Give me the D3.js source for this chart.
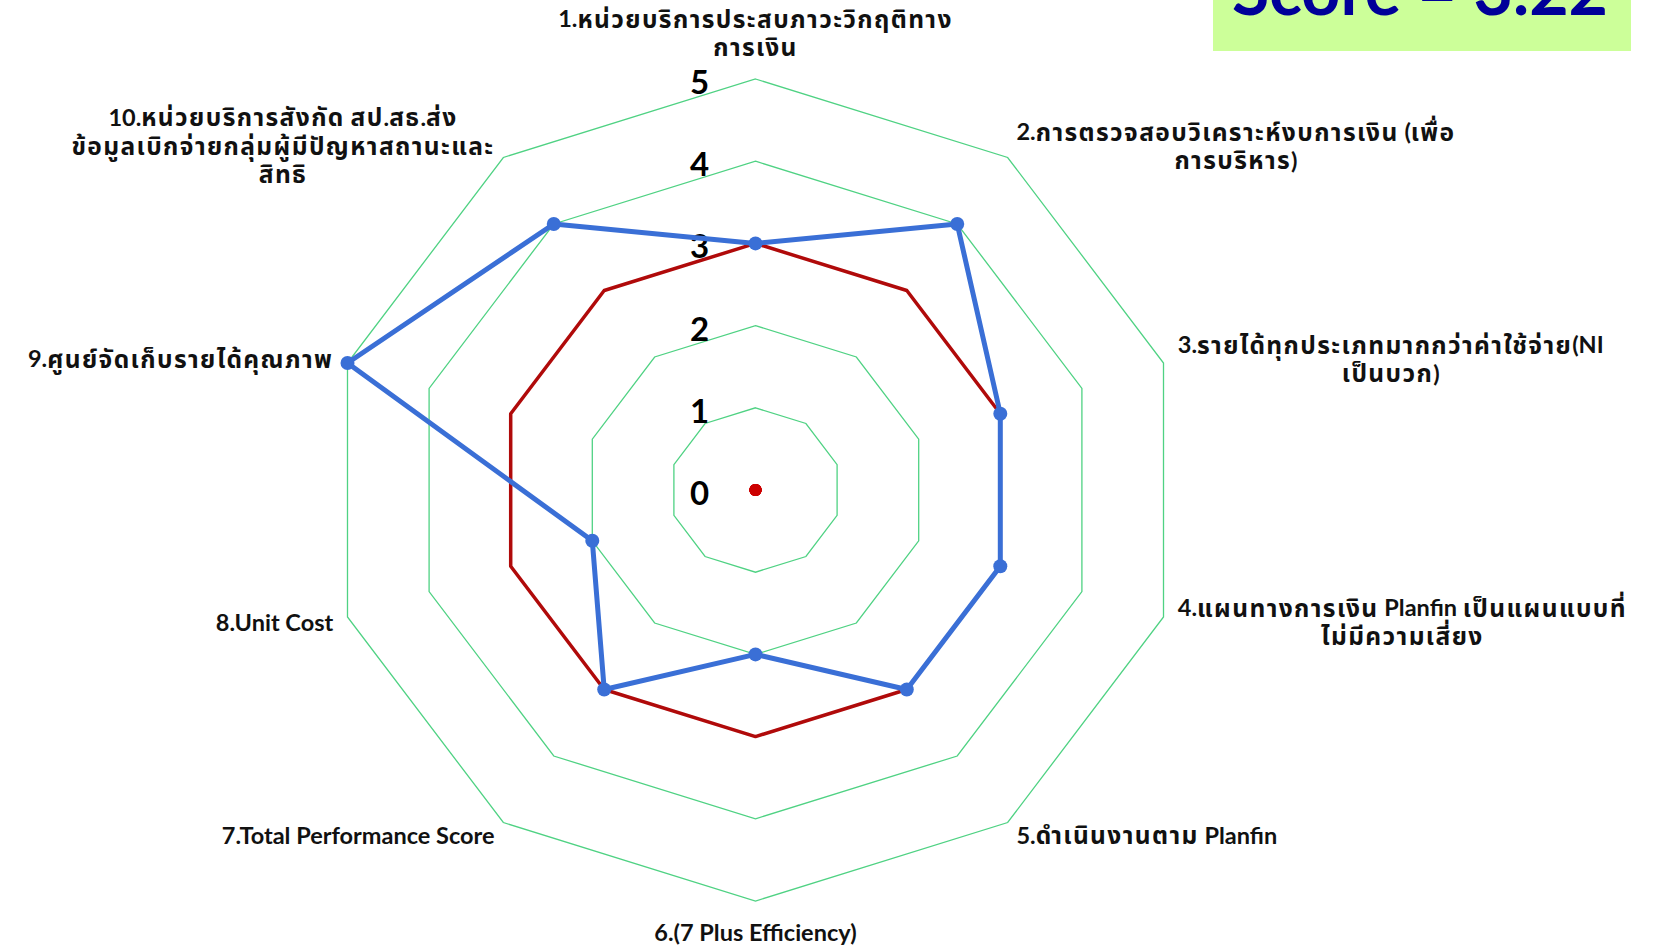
<!DOCTYPE html>
<html>
<head>
<meta charset="utf-8">
<title>Radar chart</title>
<script src="https://cdn.jsdelivr.net/npm/d3@7"></script>
<style>
  body { margin: 0; background: #fff; }
  svg { display: block; }
  .lbl { font-family: Lato, "Noto Sans Thai", "Noto Sans", "DejaVu Sans", sans-serif; font-weight: bold; fill: #111; }
</style>
</head>
<body>
<svg id="svg"></svg>
<script>
// axis labels, one array of lines per axis
var categories = [
  ["1.หน่วยบริการประสบภาวะวิกฤติทาง", "การเงิน"],
  ["2.การตรวจสอบวิเคราะห์งบการเงิน (เพื่อ", "การบริหาร)"],
  ["3.รายได้ทุกประเภทมากกว่าค่าใช้จ่าย(NI", "เป็นบวก)"],
  ["4.แผนทางการเงิน Planfin เป็นแผนแบบที่", "ไม่มีความเสี่ยง"],
  ["5.ดำเนินงานตาม Planfin"],
  ["6.(7 Plus Efficiency)"],
  ["7.Total Performance Score"],
  ["8.Unit Cost"],
  ["9.ศูนย์จัดเก็บรายได้คุณภาพ"],
  ["10.หน่วยบริการสังกัด สป.สธ.ส่ง", "ข้อมูลเบิกจ่ายกลุ่มผู้มีปัญหาสถานะและ", "สิทธิ"]
];
var scoreValues  = [3, 4, 3, 3, 3, 2, 3, 2, 5, 4];
var targetValues = [3, 3, 3, 3, 3, 3, 3, 3, 3, 3];
var zeroValues   = [0, 0, 0, 0, 0, 0, 0, 0, 0, 0];
var tickValues   = [0, 1, 2, 3, 4, 5];
var scoreText    = "Score = 3.22";

var width = 1653, height = 947,
    cx = 755.5, cy = 490;

var svg = d3.select("#svg").attr("width", width).attr("height", height);

// chart was stretched a bit wider than tall
var rx = d3.scaleLinear().domain([0, 5]).range([0, 429]);
var ry = d3.scaleLinear().domain([0, 5]).range([0, 411]);
var angle = d3.scaleLinear().domain([0, categories.length]).range([0, 2 * Math.PI]);

function pt(i, v) {
  var a = angle(i);
  return [cx + rx(v) * Math.sin(a), cy - ry(v) * Math.cos(a)];
}
function ring(values) {
  return values.map(function(v, i) { return pt(i, v); });
}

// grid rings
var line = d3.line().curve(d3.curveLinearClosed);
svg.append("g").selectAll("path")
  .data(tickValues.filter(function(t) { return t > 0; }))
  .enter().append("path")
  .attr("d", function(t) { return line(ring(categories.map(function() { return t; }))); })
  .attr("fill", "none")
  .attr("stroke", "#4fd283")
  .attr("stroke-width", 1.3);

// tick labels
svg.append("g").selectAll("text")
  .data(tickValues)
  .enter().append("text")
  .attr("class", "lbl")
  .attr("x", cx - 56)
  .attr("y", function(t) { return cy - ry(t) + 2; })
  .attr("text-anchor", "middle")
  .attr("dominant-baseline", "central")
  .style("font-size", "33px")
  .style("fill", "#000")
  .text(function(t) { return t; });

// target series (red)
svg.append("path")
  .attr("d", line(ring(targetValues)))
  .attr("fill", "none")
  .attr("stroke", "#b00a0a")
  .attr("stroke-width", 3.5)
  .attr("stroke-linejoin", "round");

// score series (blue)
svg.append("path")
  .attr("d", line(ring(scoreValues)))
  .attr("fill", "none")
  .attr("stroke", "#3a6fd6")
  .attr("stroke-width", 5)
  .attr("stroke-linejoin", "round");

svg.append("g").selectAll("circle")
  .data(ring(scoreValues))
  .enter().append("circle")
  .attr("cx", function(d) { return d[0]; })
  .attr("cy", function(d) { return d[1]; })
  .attr("r", 7)
  .attr("fill", "#3a6fd6");

// zero series, only marker shows at the centre
svg.append("g").selectAll("circle")
  .data(ring(zeroValues))
  .enter().append("circle")
  .attr("cx", function(d) { return d[0]; })
  .attr("cy", function(d) { return d[1]; })
  .attr("r", 6)
  .attr("fill", "#cc0000");

// category labels; thai runs a bit larger and spaced, the fallback thai font is narrow
var lineH = 28.5, pad = 15;
var labG = svg.append("g");
categories.forEach(function(lines, i) {
  var a = angle(i), s = Math.sin(a), c = Math.cos(a);
  var p = pt(i, 5);
  var ax = p[0] + pad * s, ay = p[1] - pad * c;
  var t = labG.append("text").attr("class", "lbl").style("font-size", "23.5px")
    .attr("text-anchor", "middle");
  lines.forEach(function(l) {
    var ln = t.append("tspan").attr("class", "ln");
    l.match(/[\u0E00-\u0E7F]+|[^\u0E00-\u0E7F]+/g).forEach(function(run) {
      var th = /[\u0E00-\u0E7F]/.test(run);
      ln.append("tspan")
        .style("font-size", th ? "24.5px" : null)
        .style("letter-spacing", th ? "1.4px" : null)
        .text(run);
    });
  });
  var w = 0;
  t.selectAll("tspan.ln").each(function() { w = Math.max(w, this.getComputedTextLength()); });
  var bx;
  if (s > 0.01) bx = ax + w / 2;
  else if (s < -0.01) bx = ax - w / 2;
  else bx = ax;
  var h = lines.length * lineH, top;
  if (Math.abs(s) < 0.01) top = c > 0 ? ay - h - 3 : ay + 2;
  else top = ay - h / 2;
  t.selectAll("tspan.ln")
    .attr("x", bx)
    .attr("y", function(d, k) { return top + k * lineH + lineH / 2; })
    .attr("dominant-baseline", "central");
});

// score box, top right (cut off at top of slide)
svg.append("rect")
  .attr("x", 1213).attr("y", 0)
  .attr("width", 418).attr("height", 51)
  .attr("fill", "#ccff99");
svg.append("text")
  .attr("class", "lbl")
  .attr("x", 1420).attr("y", 15)
  .attr("text-anchor", "middle")
  .style("font-size", "68px")
  .style("fill", "#000099")
  .text(scoreText);
</script>
</body>
</html>
